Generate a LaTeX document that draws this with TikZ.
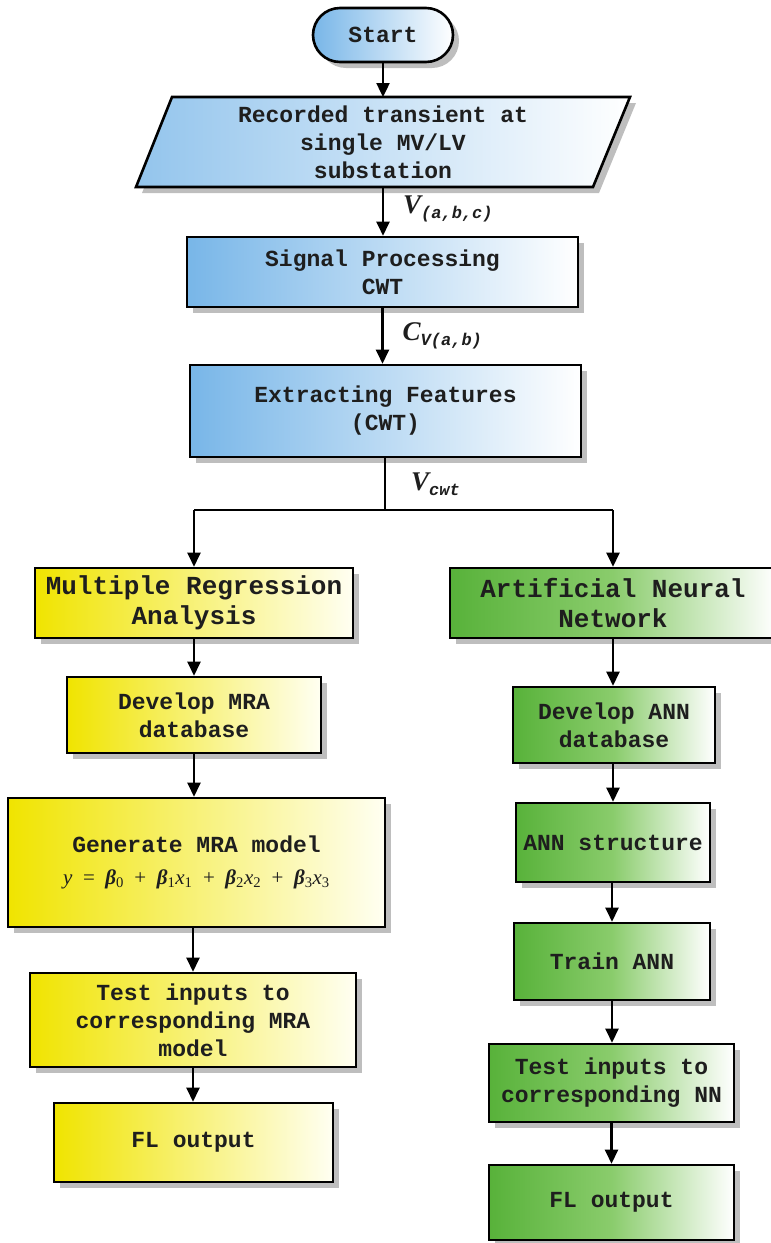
\documentclass[tikz,border=0pt]{standalone}
\usepackage{fontspec}
\setmonofont{Liberation Mono}
\newfontfamily\tnr{Liberation Serif}
\usetikzlibrary{arrows.meta,shadows,calc}

\definecolor{txt}{RGB}{30,30,30}
\definecolor{blueL}{RGB}{120,182,232}
\definecolor{yelL}{RGB}{240,228,0}
\definecolor{yelR}{RGB}{255,255,242}
\definecolor{grnL}{RGB}{88,178,58}
\definecolor{grnM}{RGB}{138,204,108}
\definecolor{shd}{RGB}{190,190,190}

\newcommand\mybeta[1]{\textbf{\textit{β}}\textsubscript{#1}}
\newcommand\myx[1]{\textit{x}\textsubscript{#1}}

\tikzset{
  box/.style={draw=black, line width=2.6pt, align=center, text=txt,
    font=\ttfamily\bfseries\fontsize{23}{28}\selectfont, inner sep=0pt,
    drop shadow={shadow xshift=6pt, shadow yshift=-6pt, fill=shd, opacity=1}},
  bluebox/.style={box, left color=blueL, right color=white},
  yelbox/.style={box, left color=yelL, right color=yelR},
  grnbox/.style={box, left color=grnL, right color=white, middle color=grnM},
  big/.style={font=\ttfamily\bfseries\fontsize{26}{30}\selectfont},
  arr/.style={line width=2.4pt, -{Triangle[length=14pt,width=13pt]}},
  lin/.style={line width=2.4pt},
  lbl/.style={text=txt, inner sep=0pt, anchor=west},
}

\begin{document}
\begin{tikzpicture}[x=1pt,y=-1pt]
\useasboundingbox (0,0) rectangle (771,1243);

% Start
\node[bluebox, rounded corners=27pt, minimum width=140pt, minimum height=54pt] (start) at (383,35) {Start};

% parallelogram (input)
\fill[shd] (178,103) -- (636,103) -- (599,193) -- (142,193) -- cycle;
\path[draw=black, line width=2.6pt, left color=blueL!80!white, right color=white]
  (172,97) -- (630,97) -- (593,187) -- (136,187) -- cycle;
\node[text=txt, align=center, font=\ttfamily\bfseries\fontsize{23}{28}\selectfont] (rec) at (383,142) {Recorded transient at\\single MV/LV\\substation};
\coordinate (rectop) at (383,97);
\coordinate (recbot) at (383,187);

\node[bluebox, minimum width=391pt, minimum height=70pt] (sp) at (382.5,272) {Signal Processing\\CWT};
\node[bluebox, minimum width=391pt, minimum height=92pt] (ef) at (385.5,411) {Extracting Features\\(CWT)};

% left column
\node[yelbox, big, minimum width=318pt, minimum height=70pt] (mra) at (194,603) {Multiple Regression\\Analysis};
\node[yelbox, minimum width=254pt, minimum height=76pt] (dmra) at (194,715) {Develop MRA\\database};
\node[yelbox, minimum width=377pt, minimum height=129pt] (gmra) at (196.5,862.5)
  {Generate MRA model\\[4pt]{\tnr\mdseries\fontsize{21}{21}\selectfont \textit{y}\ \ =\ \ \mybeta0\ \ +\ \ \mybeta1\myx1\ \ +\ \ \mybeta2\myx2\ \ +\ \ \mybeta3\myx3}};
\node[yelbox, minimum width=326pt, minimum height=94pt] (tmra) at (193,1020) {Test inputs to\\corresponding MRA\\model};
\node[yelbox, minimum width=279pt, minimum height=79pt] (fmra) at (193.5,1142.5) {FL output};

% right column
\node[grnbox, big, minimum width=326pt, minimum height=70pt] (ann) at (613,603) {Artificial Neural\\Network};
\node[grnbox, minimum width=202pt, minimum height=76pt] (dann) at (614,725) {Develop ANN\\database};
\node[grnbox, minimum width=194pt, minimum height=79pt] (anns) at (613,842.5) {ANN structure};
\node[grnbox, minimum width=196pt, minimum height=77pt] (train) at (612,961.5) {Train ANN};
\node[grnbox, minimum width=245pt, minimum height=78pt] (tnn) at (611.5,1083) {Test inputs to\\corresponding NN};
\node[grnbox, minimum width=245pt, minimum height=75pt] (fnn) at (611.5,1202.5) {FL output};

% connectors
\draw[arr] (start.south) -- (rectop);
\draw[arr] (recbot) -- node[lbl, pos=0.45, xshift=19pt]
  {{\tnr\bfseries\itshape\fontsize{27}{27}\selectfont V}{\ttfamily\bfseries\itshape\fontsize{17}{17}\selectfont\raisebox{-5pt}{(a,b,c)}}} (recbot |- sp.north);
\draw[arr] (sp.south) -- node[lbl, pos=0.5, xshift=19pt]
  {{\tnr\bfseries\itshape\fontsize{27}{27}\selectfont C}{\ttfamily\bfseries\itshape\fontsize{17}{17}\selectfont\raisebox{-5pt}{V(a,b)}}} (sp.south |- ef.north);

\coordinate (br) at (385,510);
\coordinate (bl) at (mra.north |- br);
\coordinate (brr) at (ann.north |- br);
\draw[lin] (ef.south -| br) -- node[lbl, pos=0.5, xshift=25pt]
  {{\tnr\bfseries\itshape\fontsize{27}{27}\selectfont V}{\ttfamily\bfseries\itshape\fontsize{17}{17}\selectfont\raisebox{-5pt}{cwt}}} (br);
\draw[lin] (bl) -- (brr);
\draw[arr] (bl) -- (mra.north);
\draw[arr] (brr) -- (ann.north);

\draw[arr] (mra.south) -- (mra.south |- dmra.north);
\draw[arr] (dmra.south) -- (dmra.south |- gmra.north);
\draw[arr] (gmra.south -| tmra.north) -- (tmra.north);
\draw[arr] (tmra.south) -- (tmra.south |- fmra.north);

\draw[arr] (ann.south) -- (ann.south |- dann.north);
\draw[arr] (dann.south -| anns.north) -- (anns.north);
\draw[arr] (anns.south -| train.north) -- (train.north);
\draw[arr] (train.south) -- (train.south |- tnn.north);
\draw[arr] (tnn.south) -- (tnn.south |- fnn.north);
\end{tikzpicture}
\end{document}
